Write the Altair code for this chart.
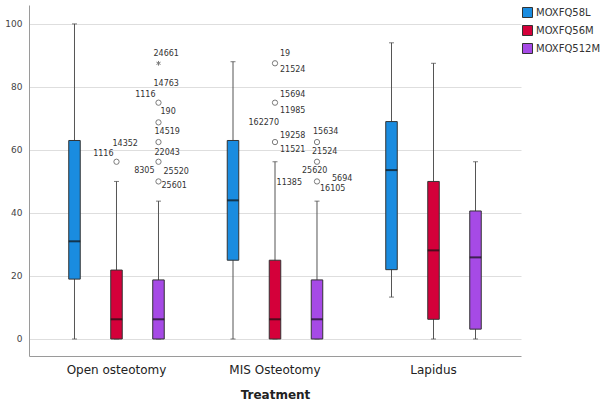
import altair as alt
import pandas as pd

# ---------------- data ----------------
treatments = ["Open osteotomy", "MIS Osteotomy", "Lapidus"]
series = ["MOXFQ58L", "MOXFQ56M", "MOXFQ512M"]
colors = ["#1a8ce0", "#d4003a", "#a64ae6"]

box_treat = [t for t in treatments for _ in series]
box_series = series * 3
whisker_low = [0, 0, 0, 0, 0, 0, 13.3, 0, 0]
q1 = [19, 0, 0, 25, 0, 0, 22, 6.25, 3.125]
median = [31, 6.25, 6.25, 44, 6.25, 6.25, 53.6, 28.125, 25.9]
q3 = [63, 21.875, 18.75, 63, 25, 18.75, 69, 50, 40.625]
whisker_high = [100, 50, 43.75, 88, 56.25, 43.75, 94, 87.5, 56.25]

out_treat = ["Open osteotomy"] * 6 + ["MIS Osteotomy"] * 6
out_series = ["MOXFQ56M"] + ["MOXFQ512M"] * 5 + ["MOXFQ56M"] * 3 + ["MOXFQ512M"] * 3
out_value = [56.25, 75, 68.75, 62.5, 56.25, 50, 87.5, 75, 62.5, 62.5, 56.25, 50]

ext_treat = ["Open osteotomy"]
ext_series = ["MOXFQ512M"]
ext_value = [87.5]

label_treat = (["Open osteotomy"] * 11 + ["MIS Osteotomy"] * 13)
label_series = (["MOXFQ56M"] * 2 + ["MOXFQ512M"] * 9 +
                ["MOXFQ56M"] * 7 + ["MOXFQ512M"] * 6)
label_value = [56.25, 56.25,
               87.5, 75, 75, 68.75, 62.5, 56.25, 56.25, 50, 50,
               87.5, 87.5, 75, 75, 62.5, 62.5, 62.5,
               62.5, 56.25, 56.25, 50, 50, 50]
label_text = ["1116", "14352",
              "24661", "14763", "1116", "190", "14519", "22043", "8305", "25520", "25601",
              "19", "21524", "15694", "11985", "162270", "19258", "11521",
              "15634", "21524", "25620", "5694", "16105", "11385"]

# label placement (style, pixels)
label_align = ["right", "left",
               "left", "left", "right", "left", "left", "left", "right", "left", "left",
               "left", "left", "left", "left", "right", "left", "left",
               "left", "left", "left", "left", "left", "right"]
label_dx = [-3, -4,
            -5, -5, -3, 2, -4, -4, -4, 5, 3,
            5, 5, 5, 5, 4, 5, 5,
            -4, -5, -15, 15, 3, -15]
label_dy = [-8, -18,
            -9, -19, -8, -10, -10, -9, 9, -9, 5,
            -9, 7, -8, 8, -19, -6, 8,
            -10, -10, 9, -2, 8, 2]

# ---------------- frames ----------------
box_df = pd.DataFrame({"treatment": box_treat, "series": box_series,
                       "lo": whisker_low, "q1": q1, "med": median,
                       "q3": q3, "hi": whisker_high})
out_df = pd.DataFrame({"treatment": out_treat, "series": out_series, "value": out_value})
ext_df = pd.DataFrame({"treatment": ext_treat, "series": ext_series, "value": ext_value})

FONT = "DejaVu Sans"

x_enc = alt.X("treatment:N",
              scale=alt.Scale(domain=treatments, paddingOuter=0.052, paddingInner=0),
              axis=alt.Axis(title="Treatment", labelAngle=0, labelFontSize=12,
                            labelFont=FONT, labelColor="#222", ticks=False,
                            labelPadding=8, titleFontSize=12, titleFont=FONT,
                            titleFontWeight="bold", titleColor="#222",
                            titlePadding=14, domainColor="#9a9a9a", grid=False))
xo_enc = alt.XOffset("series:N",
                     scale=alt.Scale(domain=series, paddingInner=0.726, paddingOuter=0.75))
y_scale = alt.Scale(domain=[-5.4, 106], nice=False, zero=False)
y_axis = alt.Axis(title=None, values=[0, 20, 40, 60, 80, 100], ticks=False,
                  labelFontSize=9, labelFont=FONT, labelColor="#444",
                  labelPadding=7, grid=True, gridColor="#dedede",
                  domainColor="#9a9a9a")

base = alt.Chart(box_df).encode(x=x_enc, xOffset=xo_enc)

whisker = base.mark_rule(color="#555", strokeWidth=1).encode(
    y=alt.Y("lo:Q", scale=y_scale, axis=y_axis), y2="hi:Q")
cap_lo = base.mark_tick(orient="horizontal", size=5, thickness=1, color="#444").encode(
    y=alt.Y("lo:Q"))
cap_hi = base.mark_tick(orient="horizontal", size=5, thickness=1, color="#444").encode(
    y=alt.Y("hi:Q"))
box = base.mark_bar(stroke="#333", strokeWidth=1).encode(
    y=alt.Y("q1:Q"), y2="q3:Q",
    color=alt.Color("series:N", scale=alt.Scale(domain=series, range=colors),
                    legend=alt.Legend(title=None, orient="none", legendX=493, legendY=2,
                                      symbolType="square", symbolSize=100,
                                      symbolStrokeColor="#333", symbolStrokeWidth=1,
                                      symbolOpacity=1, labelFontSize=10, labelFont=FONT,
                                      labelColor="#333", rowPadding=3, padding=0,
                                      labelOffset=3)))
med = base.mark_tick(orient="horizontal", size=11.5, thickness=2, color="#111").encode(
    y=alt.Y("med:Q"))

outl = alt.Chart(out_df).mark_point(shape="circle", filled=False, size=28,
                                     color="#444", strokeWidth=1).encode(
    x=x_enc, xOffset=xo_enc, y=alt.Y("value:Q"))
star_path = "M0,-1L0,1M-0.87,-0.5L0.87,0.5M-0.87,0.5L0.87,-0.5"
ext = alt.Chart(ext_df).mark_point(shape=star_path, filled=False, size=22,
                                    color="#444", strokeWidth=1).encode(
    x=x_enc, xOffset=xo_enc, y=alt.Y("value:Q"))

labels = []
for i in range(len(label_text)):
    df = pd.DataFrame({"treatment": [label_treat[i]], "series": [label_series[i]],
                       "value": [label_value[i]], "txt": [label_text[i]]})
    labels.append(alt.Chart(df).mark_text(align=label_align[i], baseline="middle",
                                          dx=label_dx[i], dy=label_dy[i],
                                          fontSize=8, font=FONT, color="#333").encode(
        x=x_enc, xOffset=xo_enc, y=alt.Y("value:Q"), text="txt:N"))

chart = alt.layer(whisker, cap_lo, cap_hi, box, med, outl, ext, *labels).properties(
    width=492, height=351,
    autosize=alt.AutoSizeParams(type="none"),
    padding={"left": 29, "top": 5, "right": 81, "bottom": 49},
    background="white",
).configure_view(stroke=None)

chart.save("out.html", embed_options={"renderer": "svg", "actions": False})
